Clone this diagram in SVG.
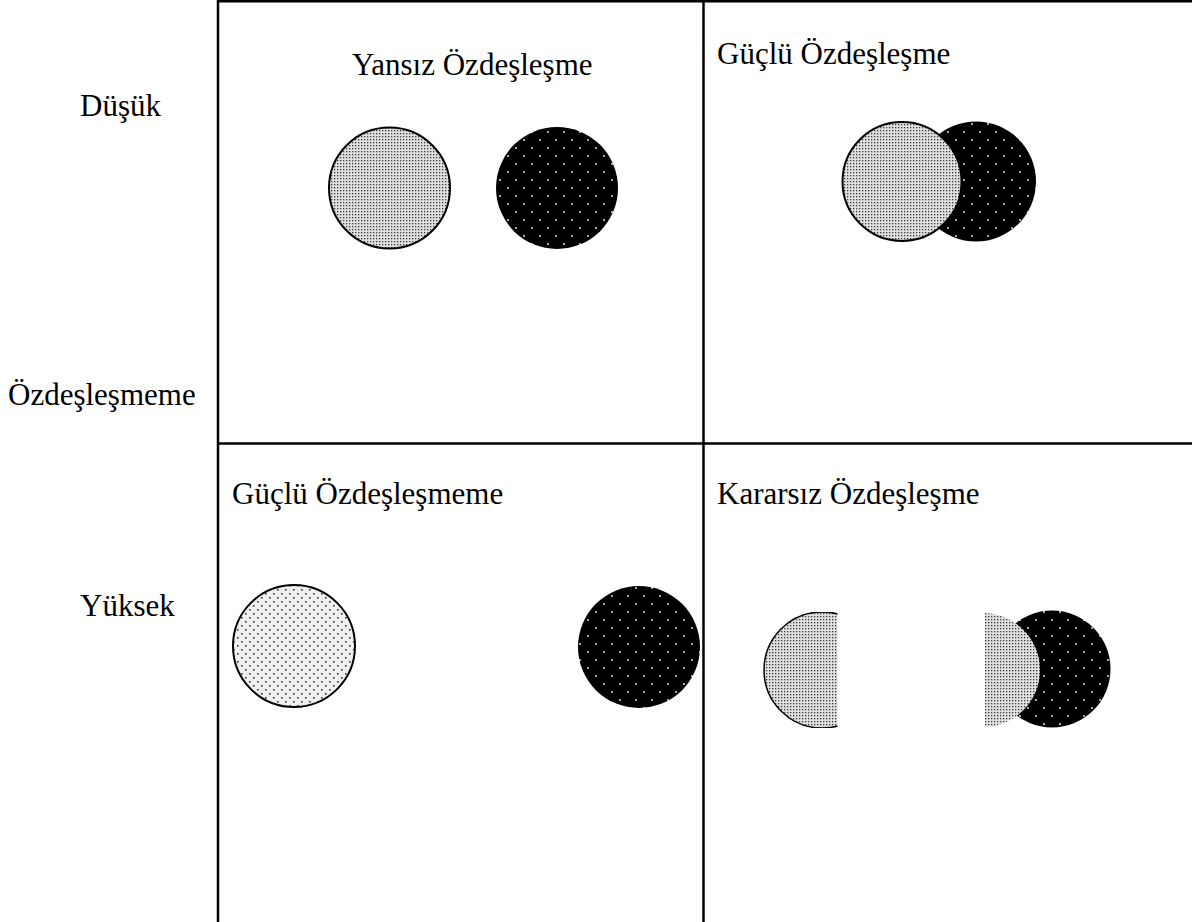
<svg xmlns="http://www.w3.org/2000/svg" width="1192" height="922" viewBox="0 0 1192 922">
<style>
  text { font-family: "Liberation Serif", "Times New Roman", serif; font-size: 31px; fill: #000; }
  .grid { stroke: #000; stroke-width: 2.5; fill: none; }
  .outline { stroke: #000; stroke-width: 2; }
</style>
<defs>
  <pattern id="light" patternUnits="userSpaceOnUse" width="3" height="3">
    <rect width="3" height="3" fill="#e0e0e0"/>
    <rect x="1" y="1" width="1.3" height="1.3" fill="#3a3a3a"/>
  </pattern>
  <pattern id="lightSparse" patternUnits="userSpaceOnUse" width="8" height="8">
    <rect width="8" height="8" fill="#f0f0f0"/>
    <rect x="1" y="1" width="1.6" height="1.6" fill="#333"/>
    <rect x="5" y="5" width="1.6" height="1.6" fill="#333"/>
  </pattern>
  <pattern id="dark" patternUnits="userSpaceOnUse" width="16" height="16">
    <rect width="16" height="16" fill="#000"/>
    <rect x="3.2" y="3.2" width="1.6" height="1.6" fill="#fff"/>
    <rect x="11.2" y="11.2" width="1.6" height="1.6" fill="#fff"/>
  </pattern>
  <clipPath id="clipLeftHalf">
    <rect x="700" y="612" width="137.5" height="116"/>
  </clipPath>
  <clipPath id="clipRightHalf">
    <rect x="985" y="612" width="140" height="116"/>
  </clipPath>
</defs>

<g id="grid">
  <line class="grid" x1="218" y1="0" x2="218" y2="922"/>
  <line class="grid" x1="703.5" y1="0" x2="703.5" y2="922"/>
  <line class="grid" x1="218" y1="1.2" x2="1192" y2="1.2"/>
  <line class="grid" x1="218" y1="443.5" x2="1192" y2="443.5"/>
</g>

<g id="axis-labels">
  <text x="80" y="116">Düşük</text>
  <text x="8" y="405">Özdeşleşmeme</text>
  <text x="80" y="616">Yüksek</text>
</g>

<g id="yansiz">
  <text x="352" y="75">Yansız Özdeşleşme</text>
  <circle cx="389.5" cy="188" r="60.5" fill="url(#light)" class="outline"/>
  <circle cx="557" cy="188" r="61" fill="url(#dark)"/>
</g>

<g id="guclu-ozdeslesme">
  <text x="717" y="64">Güçlü Özdeşleşme</text>
  <circle cx="976" cy="181.5" r="60" fill="url(#dark)"/>
  <circle cx="902" cy="181.5" r="59.5" fill="url(#light)" class="outline"/>
</g>

<g id="guclu-ozdeslesmeme">
  <text x="232" y="504">Güçlü Özdeşleşmeme</text>
  <circle cx="294" cy="646" r="61" fill="url(#lightSparse)" class="outline"/>
  <circle cx="639" cy="647" r="61" fill="url(#dark)"/>
</g>

<g id="kararsiz">
  <text x="717" y="504">Kararsız Özdeşleşme</text>
  <circle cx="822" cy="670" r="58" fill="url(#light)" clip-path="url(#clipLeftHalf)"/>
  <circle cx="822" cy="670" r="58" fill="none" stroke="#000" stroke-width="1.5" clip-path="url(#clipLeftHalf)"/>
  <circle cx="1052" cy="669" r="58.5" fill="url(#dark)"/>
  <circle cx="983" cy="670" r="57" fill="url(#light)" clip-path="url(#clipRightHalf)"/>
</g>
</svg>
